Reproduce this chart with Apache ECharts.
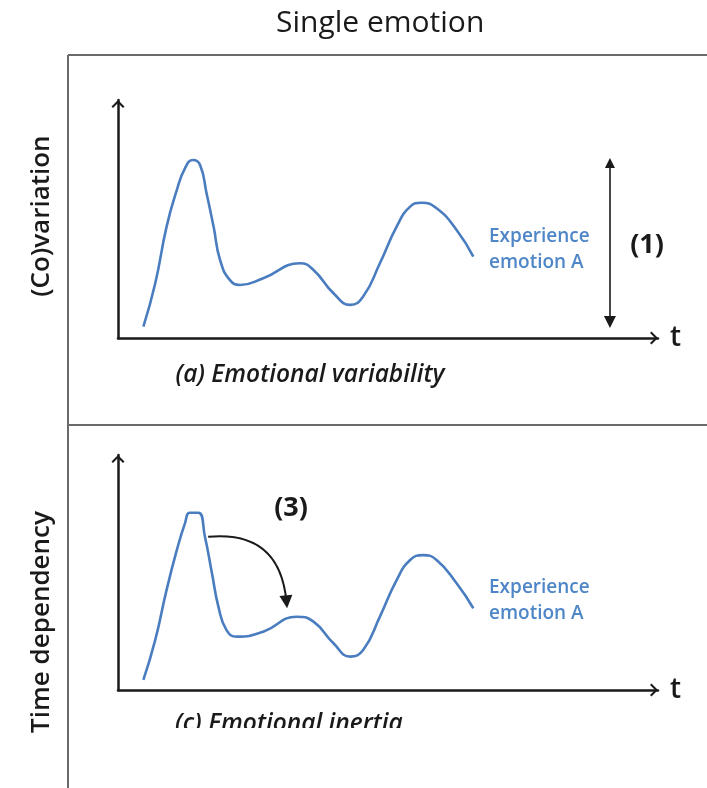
<!DOCTYPE html>
<html>
<head>
<meta charset="utf-8">
<script src="https://cdn.jsdelivr.net/npm/echarts@6/dist/echarts.min.js"></script>
<style>
  html, body { margin: 0; padding: 0; background: #fff; }
  #chart { width: 707px; height: 788px; }
</style>
</head>
<body>
<div id="chart"></div>
<script>
// (a) 情绪变异性 —— 时间 / 强度
const variabilityTime = [4.7, 6.9, 9.0, 10.9, 12.4, 13.9, 15.2, 16.4, 17.7, 18.9, 20.7, 22.6, 26.9, 33.7, 36.2, 39.9, 43.0, 45.4, 48.5, 51.6, 54.1, 56.2, 59.0, 62.7, 65.8];
const variabilityA = [4.8, 23.0, 46.8, 62.2, 71.3, 74.8, 72.7, 60.8, 46.8, 32.8, 24.4, 22.3, 25.1, 31.4, 28.6, 18.8, 13.9, 17.4, 31.4, 46.8, 55.2, 56.8, 54.5, 45.4, 34.2];

// (c) 情绪惯性
const inertiaTime = [4.7, 6.9, 9.0, 10.9, 12.4, 13.3, 14.9, 16.1, 17.4, 18.6, 20.1, 22.0, 26.9, 33.1, 36.2, 39.9, 43.0, 45.4, 48.5, 51.6, 54.1, 56.5, 59.0, 62.7, 65.8];
const inertiaA = [4.3, 21.3, 42.6, 59.6, 70.9, 75.4, 75.4, 65.2, 49.7, 35.4, 25.5, 22.7, 24.8, 31.2, 29.1, 19.9, 14.2, 17.0, 31.2, 46.8, 55.3, 57.4, 55.3, 45.4, 34.8];

// 标注： (1) 幅度范围、(3) 惯性箭头
const rangeX = 91.1;
const rangeY = [73.5, 6.7];
const inertiaArrowFrom = [16.7, 65.2];
const inertiaArrowTo = [31.2, 37.5];

const seriesLabel = ['Experience', 'emotion A'];
const panelTitles = ['(a) Emotional variability', '(c) Emotional inertia'];
const rowLabels = ['(Co)variation', 'Time dependency'];

const FONT = '"Open Sans", sans-serif';
const CURVE = '#4a7dbf';
const INK = '#1a1a1a';
const CHEVRON = 'path://M7,0 L14,7 L12.4,8.6 L7,3.2 L1.6,8.6 L0,7 Z';

const chart = echarts.init(document.getElementById('chart'));

const zip = (xs, ys) => xs.map((x, i) => [x, ys[i]]);

function makeAxis(type, gridIndex) {
  const isX = type === 'x';
  return {
    type: 'value',
    gridIndex,
    min: 0,
    max: 100,
    name: isX ? 't' : '',
    nameLocation: 'end',
    nameGap: 12,
    nameTextStyle: { fontFamily: FONT, fontSize: 28, fontWeight: 600, color: INK, verticalAlign: 'middle', padding: [0, 0, 6, 0] },
    axisLine: {
      show: true,
      symbol: ['none', CHEVRON],
      symbolSize: [13, 8],
      symbolOffset: [0, -4],
      lineStyle: { color: INK, width: 2.5 }
    },
    axisTick: { show: false },
    axisLabel: { show: false },
    splitLine: { show: false }
  };
}

function curveSeries(idx, xs, ys) {
  return {
    type: 'line',
    xAxisIndex: idx,
    yAxisIndex: idx,
    data: zip(xs, ys),
    smooth: 0.5,
    showSymbol: false,
    silent: true,
    clip: false,
    lineStyle: { color: CURVE, width: 2.6 }
  };
}

const series = [
  curveSeries(0, variabilityTime, variabilityA),
  curveSeries(1, inertiaTime, inertiaA),
  // (1) 双向箭头
  {
    type: 'lines',
    coordinateSystem: 'cartesian2d',
    xAxisIndex: 0,
    yAxisIndex: 0,
    silent: true,
    symbol: ['triangle', 'triangle'],
    symbolSize: [10, 12],
    lineStyle: { color: INK, width: 1.6, opacity: 1 },
    data: [{ coords: [[rangeX, rangeY[0]], [rangeX, rangeY[1]]] }]
  },
  // (3) 弧形箭头
  {
    type: 'lines',
    coordinateSystem: 'cartesian2d',
    xAxisIndex: 1,
    yAxisIndex: 1,
    silent: true,
    symbol: ['none', 'triangle'],
    symbolSize: [11, 13],
    lineStyle: { color: INK, width: 2, opacity: 1, curveness: 0.5 },
    data: [{ coords: [inertiaArrowFrom, inertiaArrowTo] }]
  }
];

const boxColor = '#6a6a6a';

const option = {
  backgroundColor: '#fff',
  animation: false,
  title: {
    text: 'Single emotion',
    left: 271,
    top: 3,
    textStyle: { fontFamily: FONT, fontSize: 30, fontWeight: 'normal', color: INK }
  },
  grid: [
    { left: 118, right: 49, top: 100, bottom: 450 },
    { left: 118, right: 49, top: 455, bottom: 98 }
  ],
  xAxis: [makeAxis('x', 0), makeAxis('x', 1)],
  yAxis: [makeAxis('y', 0), makeAxis('y', 1)],
  series,
  graphic: [
    // 外框
    { type: 'line', shape: { x1: 68, y1: 55, x2: 707, y2: 55 }, style: { stroke: boxColor, lineWidth: 2 } },
    { type: 'line', shape: { x1: 68, y1: 55, x2: 68, y2: 788 }, style: { stroke: boxColor, lineWidth: 2 } },
    { type: 'line', shape: { x1: 68, y1: 425, x2: 707, y2: 425 }, style: { stroke: boxColor, lineWidth: 2 } },
    // 行标签
    {
      type: 'text', x: 42, y: 216, rotation: Math.PI / 2,
      style: { text: rowLabels[0], font: '600 26px ' + FONT, fill: INK, align: 'center', verticalAlign: 'middle' }
    },
    {
      type: 'text', x: 42, y: 622, rotation: Math.PI / 2,
      style: { text: rowLabels[1], font: '600 26px ' + FONT, fill: INK, align: 'center', verticalAlign: 'middle' }
    },
    // 面板标题
    {
      type: 'text', x: 310, y: 375,
      style: { text: panelTitles[0], font: 'italic 600 24.5px ' + FONT, fill: INK, align: 'center', verticalAlign: 'middle' }
    },
    {
      type: 'text', x: 175, y: 724,
      style: { text: panelTitles[1], font: 'italic 600 24.5px ' + FONT, fill: INK, align: 'left', verticalAlign: 'middle' }
    },
    // 裁切下方文字
    { type: 'rect', shape: { x: 70, y: 728, width: 637, height: 60 }, style: { fill: '#fff' }, z: 100 },
    // 序号标注
    {
      type: 'text', x: 647, y: 245,
      style: { text: '(1)', font: 'bold 27px ' + FONT, fill: INK, align: 'center', verticalAlign: 'middle' }
    },
    {
      type: 'text', x: 291, y: 508,
      style: { text: '(3)', font: 'bold 27px ' + FONT, fill: INK, align: 'center', verticalAlign: 'middle' }
    },
    // 曲线标签
    {
      type: 'text', x: 489, y: 250,
      style: { text: seriesLabel.join('\n'), font: '600 19px ' + FONT, lineHeight: 26, fill: '#4f86c7', align: 'left', verticalAlign: 'middle' }
    },
    {
      type: 'text', x: 489, y: 601,
      style: { text: seriesLabel.join('\n'), font: '600 19px ' + FONT, lineHeight: 26, fill: '#4f86c7', align: 'left', verticalAlign: 'middle' }
    }
  ]
};

chart.setOption(option);
</script>
</body>
</html>
